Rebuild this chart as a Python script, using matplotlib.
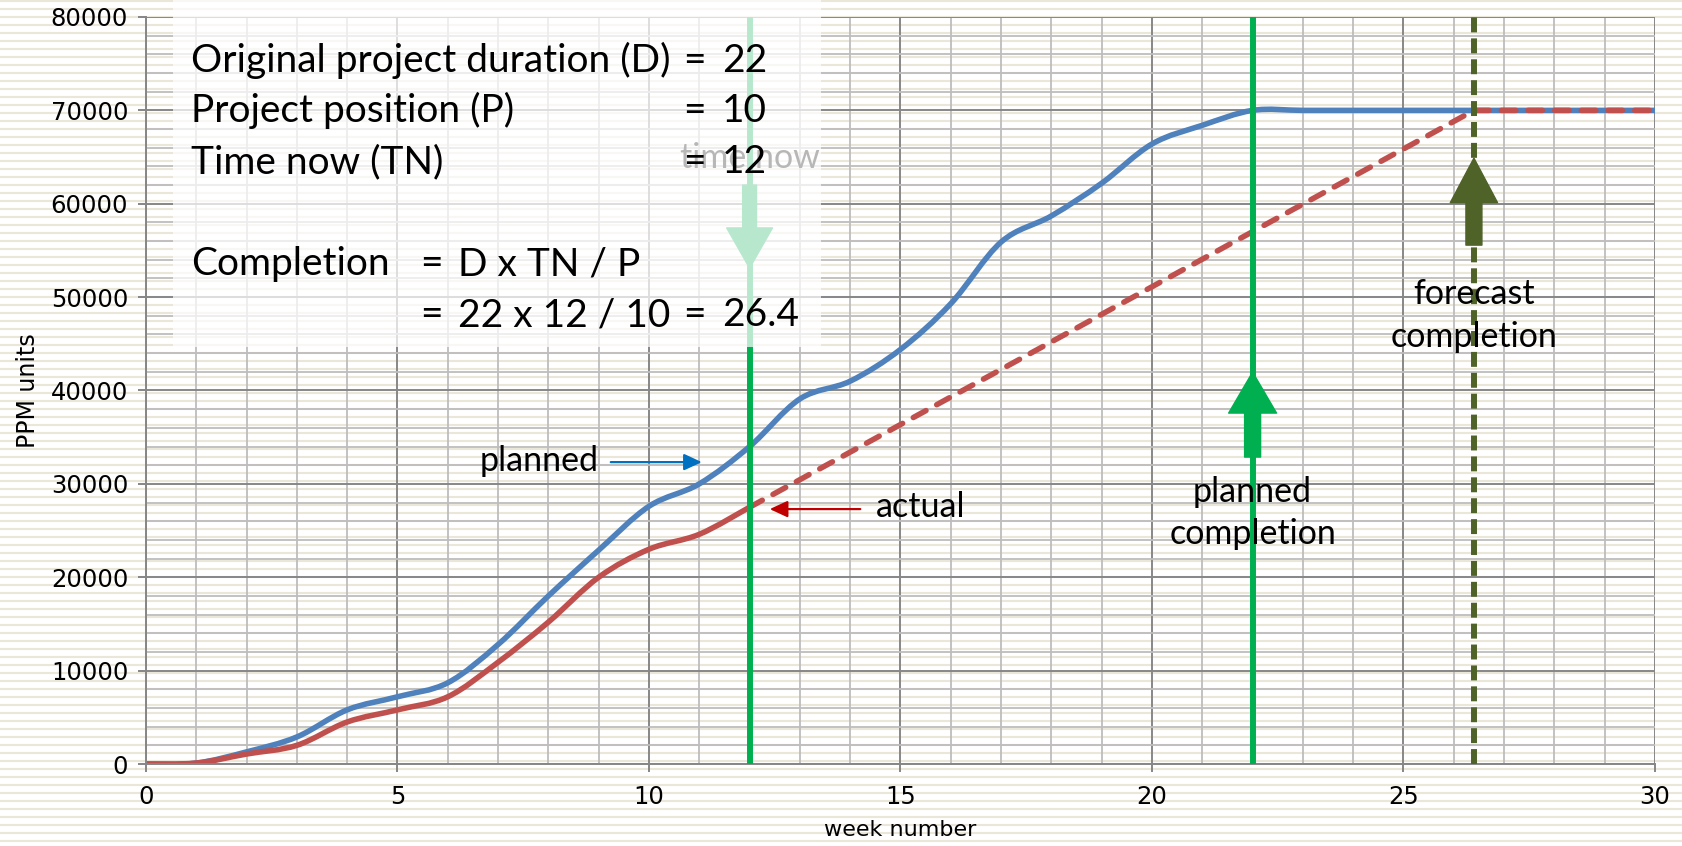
import matplotlib.pyplot as plt
import numpy as np
from matplotlib.path import Path
from matplotlib.patches import PathPatch, FancyArrowPatch, Rectangle

# cumulative PPM units per week
weeks_planned = list(range(0, 31))
planned = [0, 100, 1300, 2900, 5800, 7200, 8700, 12800, 18000, 22900,
           27600, 30000, 34000, 39100, 41000, 44400, 49300, 55900, 58700, 62200,
           66400, 68400, 70000, 70000, 70000, 70000, 70000, 70000, 70000, 70000,
           70000]
weeks_actual = list(range(0, 13))
actual = [0, 100, 1070, 2000, 4500, 5800, 7200, 10900, 15200, 20000,
          23000, 24600, 27500]

duration = 22   # D
position = 10   # P
time_now = 12   # TN
forecast = duration * time_now / position
budget = 70000

BLUE = '#4F81BD'
RED = '#C0504D'
GREEN = '#00B050'
OLIVE = '#4F6228'
W, H = 1683, 846


def smooth_path(xs, ys):
    # smoothed line through the points, like a spreadsheet "smoothed line"
    pts = np.column_stack([xs, ys]).astype(float)
    n = len(pts)
    verts = [pts[0]]
    codes = [Path.MOVETO]
    for i in range(n - 1):
        p0 = pts[max(i - 1, 0)]
        p1 = pts[i]
        p2 = pts[i + 1]
        p3 = pts[min(i + 2, n - 1)]
        verts += [p1 + (p2 - p0) / 6, p2 - (p3 - p1) / 6, p2]
        codes += [Path.CURVE4] * 3
    return Path(verts, codes)


fig = plt.figure(figsize=(W / 100, H / 100), dpi=100)

# striped paper background
bg = fig.add_axes([0, 0, 1, 1], zorder=-1)
bg.set_xlim(0, W)
bg.set_ylim(H, 0)
bg.axis('off')
bg.hlines(np.arange(1, H, 8), 0, W, color='#EAE6D8', lw=1.5)

ax = fig.add_axes([146 / W, 1 - 764 / H, (1655 - 146) / W, (764 - 17) / H])
ax.set_facecolor('none')
ax.set_xlim(0, 30)
ax.set_ylim(0, 80000)
ax.set_xticks(range(0, 31, 5))
ax.set_xticks(range(0, 31), minor=True)
ax.set_yticks(range(0, 80001, 10000))
ax.set_yticks(range(0, 80001, 2000), minor=True)
ax.grid(which='major', color='#878787', lw=1.4, zorder=0)
ax.grid(which='minor', color='#BDBDBD', lw=1.3, zorder=0)
ax.set_axisbelow(True)
for s in ['top', 'right']:
    ax.spines[s].set_visible(False)
for s in ['left', 'bottom']:
    ax.spines[s].set_color('#868686')
    ax.spines[s].set_linewidth(1.4)
ax.tick_params(which='major', length=5.8, width=1.4, color='#868686',
               labelsize=17.5, pad=7)
ax.tick_params(axis='x', which='major', pad=9)
ax.tick_params(which='minor', length=0)
ax.set_xlabel('week number', fontsize=16, labelpad=8)
ax.set_ylabel('PPM units', fontsize=17, labelpad=8)

# planned and actual curves
ax.add_patch(PathPatch(smooth_path(weeks_planned, planned), fill=False,
                       edgecolor=BLUE, lw=4, capstyle='round', zorder=2))
ax.add_patch(PathPatch(smooth_path(weeks_actual, actual), fill=False,
                       edgecolor=RED, lw=4, capstyle='round', zorder=2))
ax.plot([time_now, forecast, 30], [actual[-1], budget, budget], color=RED,
        lw=4, dashes=(2.6, 2.2), dash_capstyle='round', zorder=2)

# time now / planned / forecast markers
ax.axvline(time_now, color=GREEN, lw=4.3, zorder=3)
ax.axvline(duration, color=GREEN, lw=4.3, zorder=3)
ax.axvline(forecast, color=OLIVE, lw=4.3, dashes=(2.5, 1.0), zorder=3)


def block_arrow(x, y0, y1, color, head_len, head_w, tail_w):
    ax.add_patch(FancyArrowPatch(
        (x, y0), (x, y1), shrinkA=0, shrinkB=0, color=color, zorder=3,
        arrowstyle=f'simple,head_length={head_len},head_width={head_w},tail_width={tail_w}'))


block_arrow(time_now, 62000, 53100, GREEN, 29, 33, 10)
block_arrow(duration, 32870, 41970, GREEN, 29.5, 34.5, 11.5)
block_arrow(forecast, 55570, 64880, OLIVE, 32, 34, 11.5)

lab = dict(family='Lato', fontsize=24.5, va='baseline')
ax.text(time_now, 63800, 'time now', ha='center', color='black', zorder=3, **lab)

# semi-transparent note box
ax.add_patch(Rectangle((173 / W, 1 - 347 / H), (821 - 173) / W, 347 / H,
                       transform=fig.transFigure, facecolor='white', alpha=0.72,
                       edgecolor='none', clip_on=False, zorder=4))

box = dict(family='Lato', fontsize=28, va='baseline', ha='left', zorder=5)
rows = [74090, 68740, 63280, 52360, 46900]
ax.text(0.9, rows[0], 'Original project duration (D)', **box)
ax.text(10.68, rows[0], '=', **box)
ax.text(11.45, rows[0], f'{duration}', **box)
ax.text(0.9, rows[1], 'Project position (P)', **box)
ax.text(10.68, rows[1], '=', **box)
ax.text(11.45, rows[1], f'{position}', **box)
ax.text(0.9, rows[2], 'Time now (TN)', **box)
ax.text(10.68, rows[2], '=', **box)
ax.text(11.45, rows[2], f'{time_now}', **box)
ax.text(0.9, rows[3], 'Completion', **box)
ax.text(5.45, rows[3], '=', **box)
ax.text(6.2, rows[3], 'D x TN / P', **box)
ax.text(5.45, rows[4], '=', **box)
ax.text(6.2, rows[4], f'{duration} x {time_now} / {position}', **box)
ax.text(10.68, rows[4], '=', **box)
ax.text(11.45, rows[4], f'{forecast:.1f}', **box)

# curve labels
ax.text(9.0, 31370, 'planned', ha='right', zorder=5, **lab)
ax.annotate('', xy=(11.05, 32330), xytext=(9.24, 32330),
            arrowprops=dict(arrowstyle='-|>,head_length=1.08,head_width=0.5',
                            color='#0070C0', lw=1.6, shrinkA=0, shrinkB=0))
ax.text(14.51, 26450, 'actual', ha='left', zorder=5, **lab)
ax.annotate('', xy=(12.4, 27300), xytext=(14.2, 27300),
            arrowprops=dict(arrowstyle='-|>,head_length=1.08,head_width=0.5',
                            color='#C00000', lw=1.6, shrinkA=0, shrinkB=0))

for text, y in [('planned', 28050), ('completion', 23550)]:
    ax.text(duration, y, text, ha='center', zorder=5, **lab)
for text, y in [('forecast', 49250), ('completion', 44650)]:
    ax.text(forecast, y, text, ha='center', zorder=5, **lab)

fig.savefig('out.png', dpi=100)
